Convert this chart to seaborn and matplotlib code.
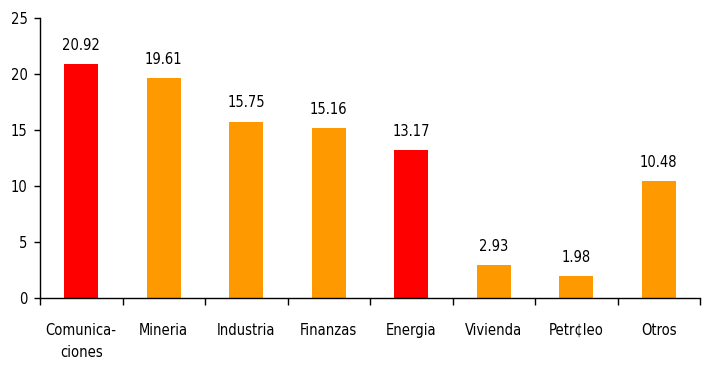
import seaborn as sns
import matplotlib.pyplot as plt
import pandas as pd

sectores = ["Comunica-\nciones", "Mineria", "Industria", "Finanzas",
            "Energia", "Vivienda", "Petr¢leo", "Otros"]
valores = [20.92, 19.61, 15.75, 15.16, 13.17, 2.93, 1.98, 10.48]
grupo = ["a", "b", "b", "b", "a", "b", "b", "b"]

df = pd.DataFrame({"sector": sectores, "valor": valores, "grupo": grupo})

sns.set_style("white", {"xtick.bottom": True, "ytick.left": True,
                        "text.color": "black", "xtick.color": "black",
                        "ytick.color": "black", "axes.edgecolor": "black"})
plt.rcParams['font.family'] = ['DejaVu Sans']
plt.rcParams['font.stretch'] = 'condensed'

fig = plt.figure(figsize=(7.14, 3.72), dpi=100)
ax = fig.add_axes([40/714, 74/372, 660/714, 280/372])

sns.barplot(data=df, x="sector", y="valor", hue="grupo",
            palette={"a": "#FF0000", "b": "#FF9900"}, dodge=False,
            width=0.41, legend=False, ax=ax, saturation=1, linewidth=0)

for c in ax.containers:
    ax.bar_label(c, fmt="%.2f", padding=8, fontsize=10.5, color="black")

ax.set_xlim(-0.5, 7.5)
ax.set_ylim(0, 25)
ax.set_yticks([0, 5, 10, 15, 20, 25])
ax.set_xticks([i + 0.5 for i in range(-1, 8)], minor=True)
ax.tick_params(axis='x', which='major', length=0, pad=18, labelsize=10.5)
ax.tick_params(axis='x', which='minor', length=5, width=1, direction='out', bottom=True)
ax.tick_params(axis='y', length=4, width=1, direction='out', labelsize=10.5, pad=5, left=True)
for lbl in ax.get_xticklabels():
    lbl.set_linespacing(1.6)
ax.set_xlabel('')
ax.set_ylabel('')

sns.despine(ax=ax, top=True, right=True)
for s in ['left', 'bottom']:
    ax.spines[s].set_color('black')
    ax.spines[s].set_linewidth(1)

fig.savefig("out.png", dpi=100)
